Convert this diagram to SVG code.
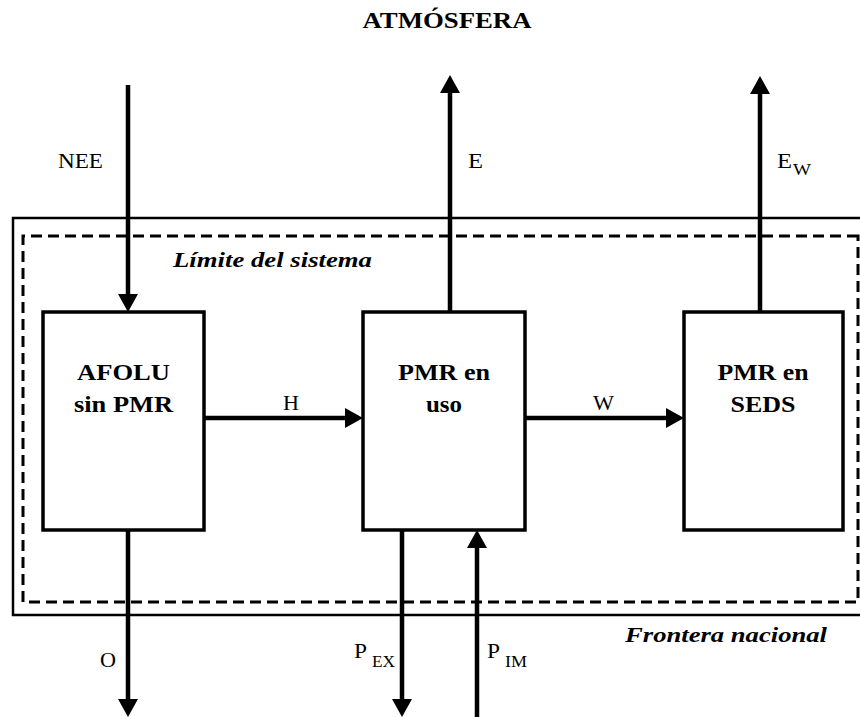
<svg xmlns="http://www.w3.org/2000/svg" width="860" height="717" viewBox="0 0 860 717" font-family="Liberation Serif, 'Times New Roman', serif">
<defs>
<style>
text{font-family:'Liberation Serif','Times New Roman',serif;fill:#000}
.box{fill:#fff;stroke:#000;stroke-width:3.5}
.ln{fill:none;stroke:#000;stroke-width:4.5;marker-end:url(#ah)}
.b{font-weight:bold;font-size:24px}
.lab{font-size:20px}
.sub{font-size:16px}
.it{font-style:italic;font-weight:bold;font-size:22px}
</style>
<marker id="ah" viewBox="0 0 18 20" refX="0" refY="10" markerWidth="18" markerHeight="20" markerUnits="userSpaceOnUse" orient="auto">
<path d="M0,0 L18,10 L0,20 z" fill="#000"/>
</marker>
</defs>
<rect width="860" height="717" fill="#fff"/>
<text class="b" x="447" y="28" text-anchor="middle" textLength="169" lengthAdjust="spacingAndGlyphs">ATMÓSFERA</text>
<g id="frontera">
<path d="M870,218 H13 V615 H870" fill="none" stroke="#000" stroke-width="2.5"/>
<text class="it" x="625" y="642" textLength="202" lengthAdjust="spacingAndGlyphs">Frontera nacional</text>
</g>
<g id="limite">
<path d="M858,236 H23 V602 H858 Z" fill="none" stroke="#000" stroke-width="3" stroke-dasharray="11 6"/>
<text class="it" x="173" y="267" textLength="199" lengthAdjust="spacingAndGlyphs">Límite del sistema</text>
</g>
<g id="connectors">
<path class="ln" d="M128,85 V294"/>
<path class="ln" d="M450,312 V93"/>
<path class="ln" d="M760,312 V94"/>
<path class="ln" d="M204,418 H345"/>
<path class="ln" d="M525,418 H666"/>
<path class="ln" d="M128,530 V699"/>
<path class="ln" d="M402,530 V699"/>
<path class="ln" d="M477,717 V548"/>
<text class="lab" x="58" y="168" textLength="45" lengthAdjust="spacingAndGlyphs">NEE</text>
<text class="lab" x="468" y="168" textLength="15" lengthAdjust="spacingAndGlyphs">E</text>
<text class="lab" x="777" y="168" textLength="15" lengthAdjust="spacingAndGlyphs">E</text>
<text class="sub" x="793" y="175" textLength="18" lengthAdjust="spacingAndGlyphs">W</text>
<text class="lab" x="283" y="410" textLength="16" lengthAdjust="spacingAndGlyphs">H</text>
<text class="lab" x="593" y="410" textLength="21" lengthAdjust="spacingAndGlyphs">W</text>
<text class="lab" x="100" y="667" textLength="16" lengthAdjust="spacingAndGlyphs">O</text>
<text class="lab" x="354" y="658" textLength="13" lengthAdjust="spacingAndGlyphs">P</text>
<text class="sub" x="372" y="667" textLength="23" lengthAdjust="spacingAndGlyphs">EX</text>
<text class="lab" x="487" y="658" textLength="13" lengthAdjust="spacingAndGlyphs">P</text>
<text class="sub" x="505" y="667" textLength="22" lengthAdjust="spacingAndGlyphs">IM</text>
</g>
<g id="afolu">
<rect class="box" x="43" y="312" width="161" height="218"/>
<text class="b" x="123.5" y="380" text-anchor="middle" textLength="93" lengthAdjust="spacingAndGlyphs">AFOLU</text>
<text class="b" x="123.5" y="412" text-anchor="middle" textLength="99" lengthAdjust="spacingAndGlyphs">sin PMR</text>
</g>
<g id="pmr-uso">
<rect class="box" x="363" y="312" width="162" height="218"/>
<text class="b" x="444" y="380" text-anchor="middle" textLength="92" lengthAdjust="spacingAndGlyphs">PMR en</text>
<text class="b" x="444" y="412" text-anchor="middle" textLength="36" lengthAdjust="spacingAndGlyphs">uso</text>
</g>
<g id="pmr-seds">
<rect class="box" x="684" y="312" width="159" height="218"/>
<text class="b" x="763" y="380" text-anchor="middle" textLength="91" lengthAdjust="spacingAndGlyphs">PMR en</text>
<text class="b" x="763" y="412" text-anchor="middle" textLength="65" lengthAdjust="spacingAndGlyphs">SEDS</text>
</g>
</svg>
